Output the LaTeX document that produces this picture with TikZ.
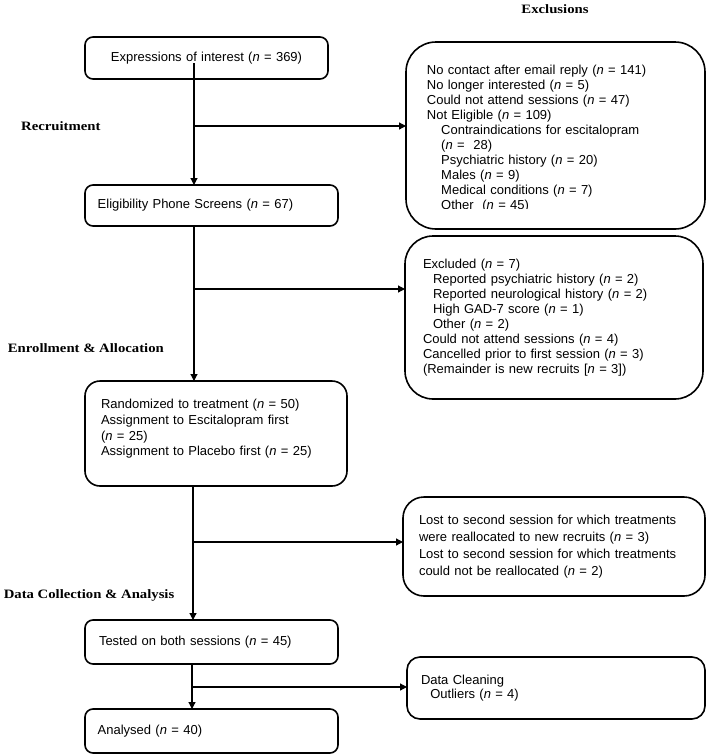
\documentclass[tikz,border=0pt]{standalone}
\usepackage{fontspec}
\setmainfont{Liberation Sans}
\newfontfamily\labfont{Liberation Serif}[FakeStretch=1.15]
\usetikzlibrary{arrows.meta}
\begin{document}
\begin{tikzpicture}[x=1pt,y=-1pt,
  font=\fontsize{13}{15}\selectfont,
  box/.style={draw, line width=1.6pt, anchor=north west, inner ysep=0pt, outer sep=0pt, align=left},
  arr/.style={line width=1.2pt, -{Triangle[length=7pt,width=7pt]}},
  lab/.style={font=\labfont\bfseries\fontsize{12.8}{14}\selectfont, inner sep=0pt}]
\useasboundingbox (0,0) rectangle (709,756);

% section labels
\node[lab] (exclt) at (555,9) {Exclusions};
\node[lab, anchor=west] (recr) at (21,126) {Recruitment};
\node[lab, anchor=west] (enro) at (7.7,348) {Enrollment \& Allocation};
\node[lab, anchor=west] (dcol) at (3.6,595) {Data Collection \& Analysis};

% main column
\node[box, rounded corners=8pt, minimum height=42pt, text width=223pt, inner xsep=10pt, align=center] (expr) at (85,37)
  {Expressions of interest (\textit{n} = 369)};
\node[box, rounded corners=8pt, minimum height=41pt, text width=227.6pt, inner xsep=12.7pt] (elig) at (85,185)
  {Eligibility Phone Screens (\textit{n} = 67)};
\node[box, rounded corners=15pt, minimum height=105pt, text width=230pt, inner xsep=16pt, font=\fontsize{13}{15.6}\selectfont] (rand) at (85,381)
  {Randomized to treatment (\textit{n} = 50)\\
   Assignment to Escitalopram first\\
   (\textit{n} = 25)\\
   Assignment to Placebo first (\textit{n} = 25)\rule[-12pt]{0pt}{12pt}};
\node[box, rounded corners=8pt, minimum height=44pt, text width=225pt, inner xsep=14pt] (tested) at (85,620)
  {Tested on both sessions (\textit{n} = 45)};
\node[box, rounded corners=8pt, minimum height=44pt, text width=227.6pt, inner xsep=12.7pt] (anal) at (85,709)
  {Analysed (\textit{n} = 40)};

% exclusion boxes
\node[box, rounded corners=30pt, minimum width=299pt, minimum height=187pt] (excl1) at (406,42) {};
\begin{scope}
  \clip (400,40) rectangle (710,208.6);
  \node[anchor=north west, inner sep=0pt, text width=262pt, align=left] (excl1text) at (426.7,65)
  {No contact after email reply (\textit{n} = 141)\\
   No longer interested (\textit{n} = 5)\\
   Could not attend sessions (\textit{n} = 47)\\
   Not Eligible (\textit{n} = 109)\\
   \hspace*{14.3pt}Contraindications for escitalopram\\
   \hspace*{14.3pt}(\textit{n} =\ \ 28)\\
   \hspace*{14.3pt}Psychiatric history (\textit{n} = 20)\\
   \hspace*{14.3pt}Males (\textit{n} = 9)\\
   \hspace*{14.3pt}Medical conditions (\textit{n} = 7)\\
   \hspace*{14.3pt}Other\ \ (\textit{n} = 45)};
\end{scope}

\node[box, rounded corners=28pt, minimum height=163pt, text width=262pt, inner xsep=18pt] (excl2) at (405,236)
  {Excluded (\textit{n} = 7)\\
   \hspace*{10pt}Reported psychiatric history (\textit{n} = 2)\\
   \hspace*{10pt}Reported neurological history (\textit{n} = 2)\\
   \hspace*{10pt}High GAD-7 score (\textit{n} = 1)\\
   \hspace*{10pt}Other (\textit{n} = 2)\\
   Could not attend sessions (\textit{n} = 4)\\
   Cancelled prior to first session (\textit{n} = 3)\\
   (Remainder is new recruits [\textit{n} = 3])};

\node[box, rounded corners=21pt, minimum height=99pt, text width=270pt, inner xsep=16pt, font=\fontsize{13}{17}\selectfont] (lost) at (403,497)
  {Lost to second session for which treatments\\
   were reallocated to new recruits (\textit{n} = 3)\\
   Lost to second session for which treatments\\
   could not be reallocated (\textit{n} = 2)};

\node[box, rounded corners=13pt, minimum height=62pt, text width=270pt, inner xsep=14pt, font=\fontsize{13}{14}\selectfont] (clean) at (407,657)
  {Data Cleaning\\
   \hspace*{9.3pt}Outliers (\textit{n} = 4)};

% connectors
\coordinate (t1) at (194,63);
\coordinate (j1) at (194,126);
\coordinate (j2) at (194,289);
\coordinate (j3) at (193,542);
\coordinate (j4) at (192,687);

\draw[arr] (t1) -- (j1 |- elig.north);
\draw[arr] (j1) -- (j1 -| excl1.west);
\draw[arr] (j2 |- elig.south) -- (j2 |- rand.north);
\draw[arr] (j2) -- (j2 -| excl2.west);
\draw[arr] (j3 |- rand.south) -- (j3 |- tested.north);
\draw[arr] (j3) -- (j3 -| lost.west);
\draw[arr] (j4 |- tested.south) -- (j4 |- anal.north);
\draw[arr] (j4) -- (j4 -| clean.west);
\end{tikzpicture}
\end{document}
